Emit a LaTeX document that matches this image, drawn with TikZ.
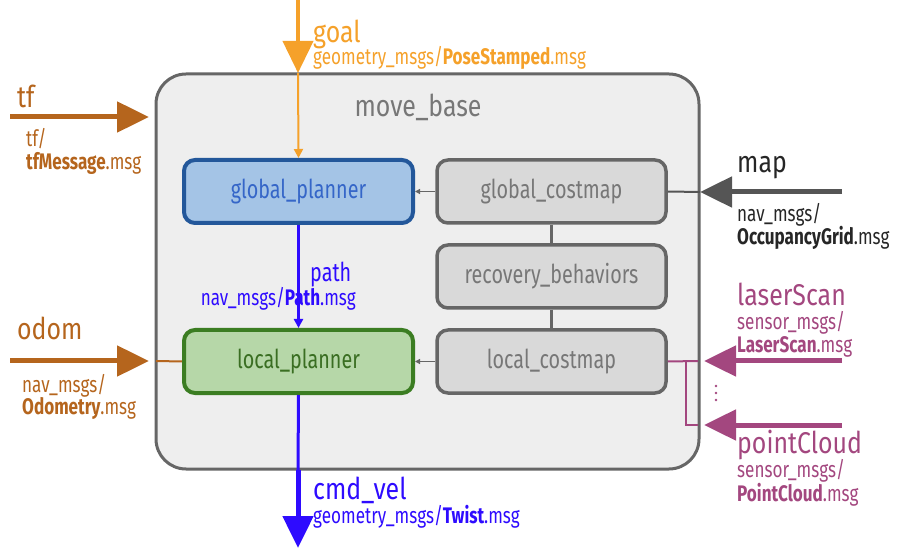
\documentclass[tikz,border=0pt]{standalone}
\usepackage{fontspec}
\setmainfont{Fira Sans}[FakeStretch=0.76]
\newfontfamily\bigfam{Fira Sans}[FakeStretch=0.83]
\usetikzlibrary{arrows.meta}
\definecolor{cgoal}{HTML}{F5A12A}
\definecolor{cbrown}{HTML}{B5651D}
\definecolor{cblue}{HTML}{2E0BFF}
\definecolor{cpurple}{HTML}{A3477F}
\definecolor{cmap}{HTML}{555555}
\definecolor{gpfill}{HTML}{A4C4E6}
\definecolor{gpline}{HTML}{23579A}
\definecolor{gptext}{HTML}{3566C8}
\definecolor{lpfill}{HTML}{B6D7A8}
\definecolor{lpline}{HTML}{3B7D22}
\definecolor{lptext}{HTML}{3A6E22}
\definecolor{cmfill}{HTML}{D9D9D9}
\definecolor{cmline}{HTML}{666666}
\definecolor{cmtext}{HTML}{777777}
\definecolor{mbfill}{HTML}{EEEEEE}
\newcommand{\bigf}{\bigfam\fontsize{30}{33}\selectfont}
\newcommand{\boxf}{\fontsize{26}{28}\selectfont}
\newcommand{\smallf}{\fontsize{22.5}{24}\selectfont}
\begin{document}
\begin{tikzpicture}[x=1pt,y=-1pt,
  modbox/.style={rounded corners=11pt, minimum width=229pt, minimum height=63pt, inner sep=0pt, font=\boxf},
  gpbox/.style={modbox, draw=gpline, fill=gpfill, line width=4pt, text=gptext},
  lpbox/.style={modbox, draw=lpline, fill=lpfill, line width=4pt, text=lptext},
  cmbox/.style={modbox, draw=cmline, fill=cmfill, line width=3.5pt, text=cmtext},
  lbl/.style={anchor=base west, inner sep=0pt, align=left},
  biglbl/.style={lbl, font=\bigf},
  smlbl/.style={lbl, font=\smallf},
  bigtip/.style={-{Triangle[length=32pt,width=30pt]}},
  smalltip/.style={-{Triangle[length=9pt,width=9pt]}},
  tinytip/.style={-{Triangle[length=5pt,width=5pt]}},
]
\useasboundingbox (0,0) rectangle (908,553);
% main box
\node[draw=cmline, fill=mbfill, line width=3pt, rounded corners=30pt,
  minimum width=543pt, minimum height=395pt, inner sep=0pt] (mb) at (427.5,271.5) {};
\node[font=\bigf, text=cmtext, anchor=base, inner sep=0pt] (mbt) at (418,117) {move\_base};
% modules
\node[gpbox] (gp) at (298.5,191.5) {global\_planner};
\node[lpbox] (lp) at (298.5,361.5) {local\_planner};
\node[cmbox] (gc) at (551.5,191.5) {global\_costmap};
\node[cmbox] (rb) at (551.5,276.5) {recovery\_behaviors};
\node[cmbox] (lc) at (551.5,361.5) {local\_costmap};
% internal links
\draw[cmline, line width=3pt] (gc.south) -- (rb.north);
\draw[cmline, line width=3pt] (rb.south) -- (lc.north);
\draw[cmline, line width=1.5pt, tinytip] (gc.west) -- (gp.east);
\draw[cmline, line width=1.5pt, tinytip] (lc.west) -- (lp.east);
% coordinates on main box border
\coordinate (goalin) at (298,73);
\coordinate (goaltop) at (298,0);
\coordinate (tfstart) at (10,117);
\coordinate (tfin) at (149,117);
\coordinate (odstart) at (10,361);
\coordinate (odin) at (149,361);
\coordinate (odbd) at (156,361);
\coordinate (mapstart) at (842,192);
\coordinate (mapin) at (700,192);
\coordinate (lsstart) at (842,361);
\coordinate (lsin) at (704,361);
\coordinate (pcstart) at (842,425);
\coordinate (pcin) at (704,425);
\coordinate (lsbd) at (698,361);
\coordinate (pcbd) at (698,425);
\coordinate (branch) at (686,361);
\coordinate (branchb) at (686,425);
\coordinate (cvout) at (298,470);
\coordinate (cvend) at (298,548);
% goal
\draw[cgoal, line width=4pt, bigtip] (goaltop) -- (goalin);
\draw[cgoal, line width=2pt, smalltip] (goalin) -- (gp.north);
\node[biglbl, text=cgoal] (goalt) at (313,43) {goal};
\node[smlbl, text=cgoal] (goalm) at (313,65) {geometry\_msgs/\textbf{PoseStamped}.msg};
% tf
\draw[cbrown, line width=5pt, bigtip] (tfstart) -- (tfin);
\node[biglbl, text=cbrown] (tft) at (17,108) {tf};
\node[smlbl, text=cbrown] (tfm1) at (26,147) {tf/};
\node[smlbl, text=cbrown] (tfm2) at (26,170) {\textbf{tfMessage}.msg};
% odom
\draw[cbrown, line width=5pt, bigtip] (odstart) -- (odin);
\draw[cbrown, line width=2pt] (odbd) -- (lp.west);
\node[biglbl, text=cbrown] (odt) at (17,340) {odom};
\node[smlbl, text=cbrown] (odm1) at (22,392) {nav\_msgs/};
\node[smlbl, text=cbrown] (odm2) at (22,414) {\textbf{Odometry}.msg};
% map
\draw[cmap, line width=5pt, bigtip] (mapstart) -- (mapin);
\draw[cmap, line width=2pt] (mapin) -- (gc.east);
\node[biglbl, text=black!85] (mapt) at (737,173) {map};
\node[smlbl, text=black!85] (mapm1) at (737,222) {nav\_msgs/};
\node[smlbl, text=black!85] (mapm2) at (737,245) {\textbf{OccupancyGrid}.msg};
% path
\draw[cblue, line width=2.5pt, smalltip] (gp.south) -- (lp.north);
\node[biglbl, text=cblue, font=\boxf] (patht) at (310,282) {path};
\node[smlbl, text=cblue, anchor=base east] (pathm) at (356,306) {nav\_msgs/\textbf{Path}.msg};
% cmd_vel
\draw[cblue, line width=3pt] (lp.south) -- (cvout);
\draw[cblue, line width=5pt, bigtip] (cvout) -- (cvend);
\node[biglbl, text=cblue] (cvt) at (313,499) {cmd\_vel};
\node[smlbl, text=cblue] (cvm) at (313,523) {geometry\_msgs/\textbf{Twist}.msg};
% laserScan / pointCloud
\draw[cpurple, line width=5pt, bigtip] (lsstart) -- (lsin);
\draw[cpurple, line width=5pt, bigtip] (pcstart) -- (pcin);
\draw[cpurple, line width=2pt] (lc.east) -- (lsbd);
\draw[cpurple, line width=2pt] (branch) -- (branchb) -- (pcbd);
\fill[cpurple] (716,386) circle (1.3pt) (716,393) circle (1.3pt) (716,400) circle (1.3pt);
\node[biglbl, text=cpurple] (lst) at (737,306) {laserScan};
\node[smlbl, text=cpurple] (lsm1) at (737,330) {sensor\_msgs/};
\node[smlbl, text=cpurple] (lsm2) at (737,353) {\textbf{LaserScan}.msg};
\node[biglbl, text=cpurple] (pct) at (737,453) {pointCloud};
\node[smlbl, text=cpurple] (pcm1) at (737,477) {sensor\_msgs/};
\node[smlbl, text=cpurple] (pcm2) at (737,501) {\textbf{PointCloud}.msg};
\end{tikzpicture}
\end{document}
